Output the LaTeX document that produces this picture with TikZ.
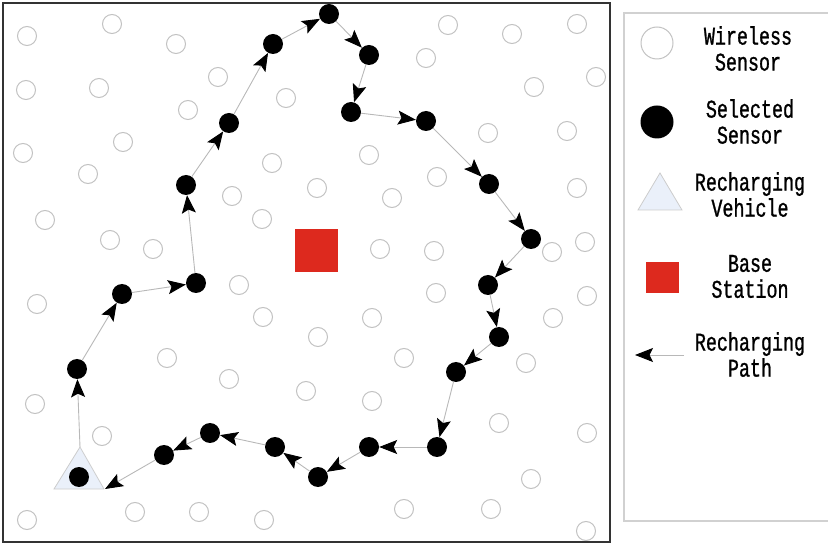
\documentclass[tikz,border=0pt]{standalone}
\usepackage{fontspec}
\setmainfont{Liberation Mono}
\newfontfamily\legfont[FakeStretch=0.72,FakeBold=1]{Liberation Mono}
\usepackage{xcolor}
\usepackage{tikz}
\usetikzlibrary{arrows.meta}
\definecolor{bsred}{RGB}{221,41,30}
\definecolor{vehblue}{RGB}{234,240,250}

\begin{document}
\begin{tikzpicture}[x=1pt, y=-1pt,
  sensor/.style={circle,draw=black!24,line width=1pt,minimum size=19pt,inner sep=0pt},
  selected/.style={circle,fill=black,minimum size=20pt,inner sep=0pt},
  route/.style={draw=black!28,line width=0.9pt,-{Stealth[color=black,length=18pt,width=14pt,inset=3.5pt]}},
  legtext/.style={font=\legfont\fontsize{25.5}{26}\selectfont,align=center}]
  \useasboundingbox (0,0) rectangle (828,545);

  % field
  \draw[black!80,line width=2pt] (3,3) rectangle (610,542);

  % wireless sensors
  \foreach \x/\y in {27/36,112/24,176/44,218/77,26/90,99/88,188/110,286/98,23/153,123/142,
      272/163,88/174,232/196,317/188,45/220,262/219,110/240,153/249,
      448/25,512/34,577/24,426/58,596/77,534/87,488/133,567/131,369/155,437/177,
      392/198,577/188,380/249,434/251,552/252,585/242,
      37/304,239/285,263/317,167/358,229/379,35/404,102/436,27/520,135/512,199/512,264/520,
      436/293,372/318,318/337,306/391,404/358,372/401,553/318,587/296,526/363,499/423,
      587/433,531/479,404/509,491/509,586/531}
    \node[sensor] at (\x,\y) {};

  % base station
  \fill[bsred] (295,229) rectangle (338,272);

  % recharging vehicle
  \draw[black!20,fill=vehblue,line width=0.8pt] (54,489) -- (80,447) -- (104,489) -- cycle;
  \coordinate (apex) at (80,447);
  \coordinate (corner) at (105,489);

  % selected sensors
  \node[selected] (v) at (79,477) {};
  \foreach \n/\x/\y in {1/77/369,2/122/294,3/196/283,4/186/185,5/229/123,6/273/44,7/329/14,
      8/369/55,9/351/112,10/426/121,11/489/184,12/531/239,13/488/285,14/499/337,
      15/456/372,16/437/447,17/369/447,18/318/477,19/275/447,20/210/433,21/164/455}
    \node[selected] (p\n) at (\x,\y) {};

  % recharging path
  \draw[route] (apex) -- (p1);
  \foreach \a/\b in {1/2,2/3,3/4,4/5,5/6,6/7,7/8,8/9,9/10,10/11,11/12,12/13,13/14,
      14/15,15/16,16/17,17/18,18/19,19/20,20/21}
    \draw[route] (p\a) -- (p\b);
  \draw[route] (p21) -- (corner);

  % legend
  \draw[black!18,line width=1.5pt] (624,13) rectangle (840,521);
  \node[sensor,minimum size=32pt] (lsensor) at (657,43) {};
  \node[selected,minimum size=33pt] (lselected) at (657,122) {};
  \draw[black!20,fill=vehblue,line width=0.8pt] (638,210) -- (660,173) -- (682,210) -- cycle;
  \fill[bsred] (646,262) rectangle (679,293);
  \coordinate (lpathA) at (684,355);
  \coordinate (lpathB) at (635,355);
  \draw[route] (lpathA) -- (lpathB);
  \node[legtext] (twireless) at (748,48.5) {Wireless\\Sensor};
  \node[legtext] (tselected) at (750,121.5) {Selected\\Sensor};
  \node[legtext] (tvehicle) at (750,194.5) {Recharging\\Vehicle};
  \node[legtext] (tbase) at (750,276.5) {Base\\Station};
  \node[legtext] (tpath) at (750,354.5) {Recharging\\Path};
\end{tikzpicture}
\end{document}
